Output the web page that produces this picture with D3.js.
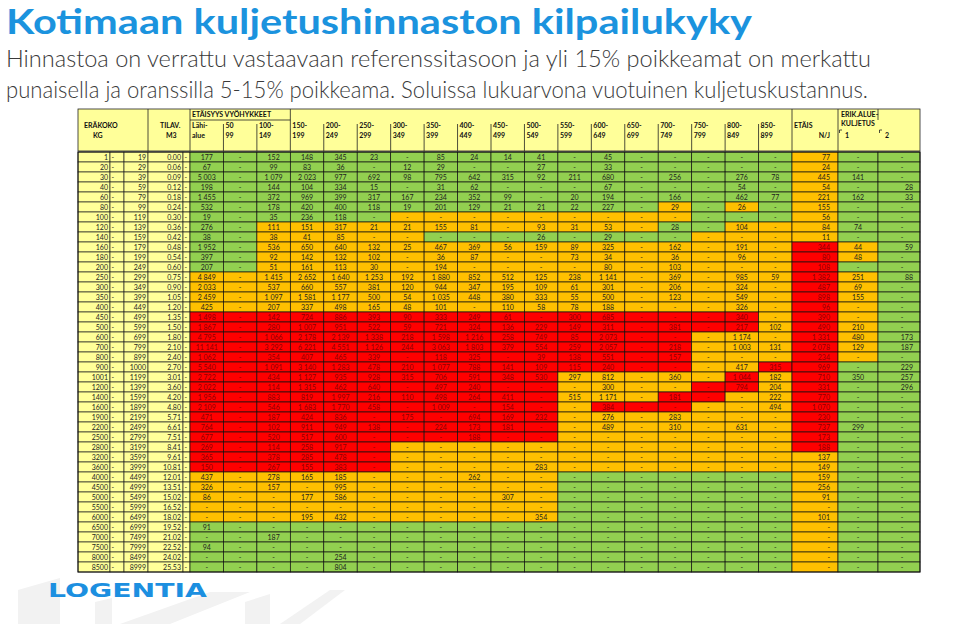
<!DOCTYPE html>
<html><head><meta charset="utf-8">
<script src="https://cdn.jsdelivr.net/npm/d3@7"></script>
<style>body{margin:0;background:#fff}svg{display:block}</style>
</head><body>
<svg id="c" width="960" height="624"></svg>
<script>
// ---------- DATA ----------
const titleText = "Kotimaan kuljetushinnaston kilpailukyky";
const subtitleLines = [
  "Hinnastoa on verrattu vastaavaan referenssitasoon ja yli 15% poikkeamat on merkattu",
  "punaisella ja oranssilla 5-15% poikkeama. Soluissa lukuarvona vuotuinen kuljetuskustannus."
];
const weightFrom = [1,20,30,40,60,80,100,120,140,160,180,200,250,300,350,400,450,500,600,700,800,900,1001,1200,1400,1600,1900,2200,2500,2800,3200,3600,4000,4500,5000,5500,6000,6500,7000,7500,8000,8500];
const weightTo   = [19,29,39,59,79,99,119,139,159,179,199,249,299,349,399,449,499,599,699,799,899,1000,1199,1399,1599,1899,2199,2499,2799,3199,3599,3999,4499,4999,5499,5999,6499,6999,7499,7999,8499,8999];
const volumes    = ["0.00","0.06","0.09","0.12","0.18","0.24","0.30","0.36","0.42","0.48","0.54","0.60","0.75","0.90","1.05","1.20","1.35","1.50","1.80","2.10","2.40","2.70","3.01","3.60","4.20","4.80","5.71","6.61","7.51","8.41","9.61","10.81","12.01","13.51","15.02","16.52","18.02","19.52","21.02","22.52","24.02","25.53"];
const distTop    = ["Lähi-","50","100-","150-","200-","250-","300-","350-","400-","450-","500-","550-","600-","650-","700-","750-","800-","850-"];
const distBottom = ["alue","99","149","199","249","299","349","399","449","499","549","599","649","699","749","799","849","899"];
const _ = null;
// columns: Lähi,50,100,150,200,250,300,350,400,450,500,550,600,650,700,750,800,850,ETÄIS,ERIK1,ERIK2
const cellValues = [
 [177,_,152,148,345,23,_,85,24,14,41,_,45,_,_,_,_,_,77,_,_],
 [67,_,99,83,36,_,12,29,_,_,27,_,33,_,_,_,_,_,24,_,_],
 [5003,_,1079,2023,977,692,98,795,642,315,92,211,680,_,256,_,276,78,445,141,_],
 [198,_,144,104,334,15,_,31,62,_,_,_,67,_,_,_,54,_,54,_,28],
 [1455,_,372,969,399,317,167,234,352,99,_,20,194,_,166,_,462,77,221,162,33],
 [532,_,178,420,400,118,19,201,129,21,21,22,227,_,29,_,26,_,155,_,_],
 [19,_,35,236,118,_,_,_,_,_,_,_,_,_,_,_,_,_,56,_,_],
 [276,_,111,151,317,21,21,155,81,_,93,31,53,_,28,_,104,_,84,74,_],
 [38,_,38,41,85,_,_,_,_,_,26,_,29,_,_,_,_,_,11,_,_],
 [1952,_,536,650,640,132,25,467,369,56,159,89,325,_,162,_,191,_,344,44,59],
 [397,_,92,142,132,102,_,36,87,_,_,73,34,_,36,_,96,_,80,48,_],
 [207,_,51,161,113,30,_,194,_,_,_,_,80,_,103,_,_,_,108,_,_],
 [4849,_,1415,2652,1640,1253,192,1880,852,512,125,238,1141,_,369,_,985,59,1382,251,88],
 [2033,_,537,660,557,381,120,944,347,195,109,61,301,_,206,_,324,_,487,69,_],
 [2459,_,1097,1581,1177,500,54,1035,448,380,333,55,500,_,123,_,549,_,898,155,_],
 [425,_,207,337,498,165,48,101,_,110,58,78,188,_,_,_,326,_,96,_,_],
 [1498,_,142,724,886,393,90,333,249,61,_,300,685,_,_,_,340,_,390,_,_],
 [1867,_,280,1007,951,522,59,721,324,136,229,149,311,_,381,_,217,102,490,210,_],
 [4795,_,1066,2178,2139,1338,218,1598,1216,258,749,85,2073,_,_,_,1174,_,1331,480,173],
 [11141,_,3292,6221,4551,1126,244,3063,1803,379,554,259,2057,_,218,_,1003,131,2078,129,187],
 [1062,_,354,407,465,339,_,118,325,_,39,138,551,_,157,_,_,_,234,_,_],
 [5540,_,1091,3140,1283,478,210,1077,788,141,109,115,240,_,_,_,417,315,969,_,229],
 [2722,_,434,1127,935,928,315,706,591,348,530,297,812,_,360,_,1044,182,710,350,257],
 [2022,_,114,1315,462,640,_,497,240,_,_,_,300,_,_,_,794,204,331,_,296],
 [1956,_,883,819,1997,216,110,498,264,411,_,515,1171,_,181,_,_,222,770,_,_],
 [2109,_,546,1683,1770,458,_,1009,_,154,_,_,384,_,_,_,_,494,1070,_,_],
 [471,_,187,424,836,_,175,_,694,169,232,_,276,_,283,_,_,_,230,_,_],
 [764,_,102,911,949,138,_,224,173,181,_,_,489,_,310,_,631,_,737,299,_],
 [677,_,520,517,600,_,_,_,188,_,_,_,_,_,_,_,_,_,173,_,_],
 [269,_,114,258,917,_,_,_,_,_,_,_,_,_,_,_,_,_,188,_,_],
 [365,_,378,285,478,_,_,_,_,_,_,_,_,_,_,_,_,_,137,_,_],
 [150,_,267,155,383,_,_,_,_,_,283,_,_,_,_,_,_,_,149,_,_],
 [437,_,278,165,185,_,_,_,262,_,_,_,_,_,_,_,_,_,159,_,_],
 [326,_,157,_,995,_,_,_,_,_,_,_,_,_,_,_,_,_,256,_,_],
 [86,_,_,177,586,_,_,_,_,307,_,_,_,_,_,_,_,_,91,_,_],
 [_,_,_,_,_,_,_,_,_,_,_,_,_,_,_,_,_,_,_,_,_],
 [_,_,_,195,432,_,_,_,_,_,354,_,_,_,_,_,_,_,101,_,_],
 [91,_,_,_,_,_,_,_,_,_,_,_,_,_,_,_,_,_,_,_,_],
 [_,_,187,_,_,_,_,_,_,_,_,_,_,_,_,_,_,_,_,_,_],
 [94,_,_,_,_,_,_,_,_,_,_,_,_,_,_,_,_,_,_,_,_],
 [_,_,_,_,254,_,_,_,_,_,_,_,_,_,_,_,_,_,_,_,_],
 [_,_,_,_,804,_,_,_,_,_,_,_,_,_,_,_,_,_,_,_,_]
];
// G = within 5 %, O = 5-15 % deviation, R = over 15 % deviation
const cellLevels = [
 "GGGGGGGGGGGGGGGGGGOGG",
 "GGGGGGGGGGGGGGGGGGOGG",
 "GGGGGGGGGGGGGGGGGGOGG",
 "GGGGGGGGGGGGGGGGGGOGG",
 "GGGGGGGGGGGGGGGGGGOGG",
 "GGGGGGGGGGGGGGOGOGOGG",
 "GGGGGGOOOOOOOOOGGGOGG",
 "GGOOOOOOOOOOOOGGOOOGG",
 "GGOOOOOGGGGGGGGOOOOGG",
 "GGOOOOOOOOOOOOOOOOROG",
 "GGOOOOOOOOOOOOOOOOROG",
 "GGOOOOOOOOOOOOOOOORGG",
 "OOOOOOOOOOOOOOOOOOROG",
 "OOOOOOOOOOOOOOOOOOROG",
 "OOOOOOOOOOOOOOOOOOROG",
 "OOOOOOOOOOOOOOOOOOROG",
 "RRRRRRRRRRRRRRRRROROG",
 "RRRRRRRRRRRRRRRRROROG",
 "RRRRRRRRRRRRRRROOOROG",
 "RRRRRRRRRRRRRRROOOROG",
 "RRRRRRRRRRRRRRROOOROG",
 "RRRRRRRRRRRRRRROORRGG",
 "RRRRRRRRRRROOOOORORGG",
 "RRRRRRRRRRROOOORRORGG",
 "RRRRRRRRRRROOORROORGG",
 "RRRRRRRRRRRORRROOORGG",
 "RRRRRRRRRRROOOOOOORGG",
 "RRRRRRRRRRROOOOOOORGG",
 "RRRRRRRRRRROOOOOOORGG",
 "RRRRRROOOOOOOOOOOORGG",
 "RRRRRROOOOOOOOOOOOOGG",
 "RRRRRROOOOOOOOOOOOOGG",
 "OOOOOOOOOOOGGGGGGGOGG",
 "OOOOOOOOOOOGGGGGGGOGG",
 "OOOOOOOOOOOGGGGGGGOGG",
 "OOOOOOOOOOOGGGGGGGOGG",
 "OOOOOOOOOOOGGGGGGGOGG",
 "GGGGGGGGGGGGGGGGGGOGG",
 "GGGGGGGGGGGGGGGGGGOGG",
 "GGGGGGGGGGGGGGGGGGOGG",
 "GGGGGGGGGGGGGGGGGGOGG",
 "GGGGGGGGGGGGGGGGGGOGG"
];

// ---------- DRAW ----------
const svg = d3.select("#c");
const levelColor = d3.scaleOrdinal().domain(["G","O","R"]).range(["#92d050","#ffc000","#ff0000"]);
const levelText  = d3.scaleOrdinal().domain(["G","O","R"]).range(["#1e1e1e","#1e1e1e","#8c0000"]);
const yellow = "#ffff99";
const numFmt = v => v == null ? "-" : d3.format(",")(v).replace(/,/g, " ");

// faint background decoration
const deco = svg.append("g").attr("fill", "#f2f2f2");
[[ [18,590],[60,578],[60,624],[18,624] ],
 [ [95,602],[112,598],[112,624],[95,624] ],
 [ [120,624],[210,592],[250,592],[170,624] ],
 [ [245,602],[270,594],[270,624],[245,624] ],
 [ [280,624],[330,590],[345,590],[300,624] ]].forEach(p =>
  deco.append("polygon").attr("points", p.map(d => d.join(",")).join(" ")));

// titles
svg.append("text").attr("x", 6).attr("y", 34)
  .attr("font-family", "Lato, 'Open Sans', sans-serif").attr("font-weight", 700)
  .attr("font-size", 34).attr("fill", "#1b93de")
  .attr("textLength", 746).attr("lengthAdjust", "spacingAndGlyphs").text(titleText);
subtitleLines.forEach((t, i) => svg.append("text").attr("x", 6).attr("y", 67 + i * 31)
  .attr("font-family", "Lato, 'Open Sans', sans-serif").attr("font-weight", 300)
  .attr("font-size", 23).attr("fill", "#3a3a3a")
  .attr("textLength", i === 0 ? 865 : 862).attr("lengthAdjust", "spacingAndGlyphs").text(t));

// scales
const rows = d3.range(weightFrom.length);
const y = d3.scaleBand().domain(rows).range([152, 572]);
const xd = d3.scaleBand().domain(d3.range(distTop.length)).range([190, 792]);
const extraEdges = [792, 838, 878, 920];
const colX = j => j < 18 ? xd(j) : extraEdges[j - 18];
const colW = j => j < 18 ? xd.bandwidth() : extraEdges[j - 17] - extraEdges[j - 18];
const labelEdges = [78, 110, 124, 148, 183, 190];

const font = "Lato, 'Open Sans', sans-serif";
const table = svg.append("g").attr("font-family", font);

// header
const hTop = 109, hMid = 120, hBot = 151;
table.append("rect").attr("x", 78).attr("y", hTop).attr("width", 842).attr("height", hBot - hTop)
  .attr("fill", yellow).attr("stroke", "#222").attr("stroke-width", 0.8);
const hl = (x1, y1, x2, y2) => table.append("line").attr("x1", x1).attr("y1", y1).attr("x2", x2).attr("y2", y2)
  .attr("stroke", "#222").attr("stroke-width", 0.8);
hl(148, hTop, 148, hBot); hl(190, hTop, 190, hBot);
hl(190, hMid, xd(3), hMid);
hl(xd(3), hTop, xd(3), hBot);
d3.range(1, 18).filter(j => j !== 3).forEach(j => hl(xd(j), hMid + 4, xd(j), hBot));
hl(792, hTop, 792, hBot); hl(838, hTop, 838, hBot); hl(878, hTop, 878, hMid);
hl(839.5, 130, 839.5, 133); hl(839.5, 130, 842, 130);
hl(879.5, 130, 879.5, 133); hl(879.5, 130, 882, 130);

const ht = (x, yy, t, anchor) => table.append("text").attr("x", x).attr("y", yy)
  .attr("font-size", 7).attr("font-weight", 700).attr("fill", "#111")
  .attr("text-anchor", anchor || "start").text(t);
ht(84, 128, "ERÄKOKO"); ht(93, 138, "KG");
ht(160, 128, "TILAV."); ht(166, 138, "M3");
ht(192, 117, "ETÄISYYS VYÖHYKKEET");
distTop.forEach((t, j) => { ht(xd(j) + 2, 128, t); ht(xd(j) + 2, 138, distBottom[j]); });
ht(794, 128, "ETÄIS"); ht(830, 138, "N/J", "end");
ht(841, 117, "ERIK.ALUE-"); ht(841, 126, "KULJETUS");
ht(845, 138, "1"); ht(885, 138, "2");

// body rows
const rowG = table.selectAll("g.row").data(rows).join("g").attr("class", "row")
  .attr("transform", r => `translate(0,${y(r)})`);
const bh = y.bandwidth();

const labelTexts = r => [String(weightFrom[r]), "-", String(weightTo[r]), volumes[r], "-"];
rowG.each(function (r) {
  const g = d3.select(this);
  const lt = labelTexts(r);
  for (let k = 0; k < 5; k++) {
    const x0 = labelEdges[k], w = labelEdges[k + 1] - x0;
    g.append("rect").attr("x", x0).attr("y", 0).attr("width", w).attr("height", bh)
      .attr("fill", yellow).attr("stroke", "#222").attr("stroke-width", 0.7);
    const right = (k === 0 || k === 2 || k === 3);
    g.append("text").attr("x", right ? x0 + w - 2 : x0 + 1.5).attr("y", bh / 2 + 2.6)
      .attr("font-size", 7).attr("fill", "#1e1e1e")
      .attr("text-anchor", right ? "end" : "start").text(lt[k]);
  }
  const vals = cellValues[r], lev = cellLevels[r];
  vals.forEach((v, j) => {
    const x0 = colX(j), w = colW(j), L = lev[j];
    g.append("rect").attr("x", x0).attr("y", 0).attr("width", w).attr("height", bh)
      .attr("fill", levelColor(L)).attr("stroke", "#111").attr("stroke-width", 0.7);
    let tx = x0 + w / 2, anchor = "middle";
    if (j === 18) { tx = x0 + w - 8; anchor = "end"; }
    if (j === 20) { tx = x0 + w - 7; anchor = "end"; }
    if (v == null && j === 20) { tx = x0 + w / 2 + 3; anchor = "middle"; }
    g.append("text").attr("x", tx).attr("y", bh / 2 + 2.6)
      .attr("font-size", 7).attr("fill", levelText(L))
      .attr("text-anchor", anchor).text(numFmt(v));
  });
});
// outer frame
table.append("rect").attr("x", 78).attr("y", 152).attr("width", 842).attr("height", 420)
  .attr("fill", "none").attr("stroke", "#111").attr("stroke-width", 1);

// logo
svg.append("text").attr("x", 48).attr("y", 597)
  .attr("font-family", "'DejaVu Sans', Lato, sans-serif").attr("font-weight", 700)
  .attr("font-size", 20).attr("fill", "#1c8fe0")
  .attr("textLength", 159).attr("lengthAdjust", "spacingAndGlyphs").text("LOGENTIA");
</script>
</body></html>
